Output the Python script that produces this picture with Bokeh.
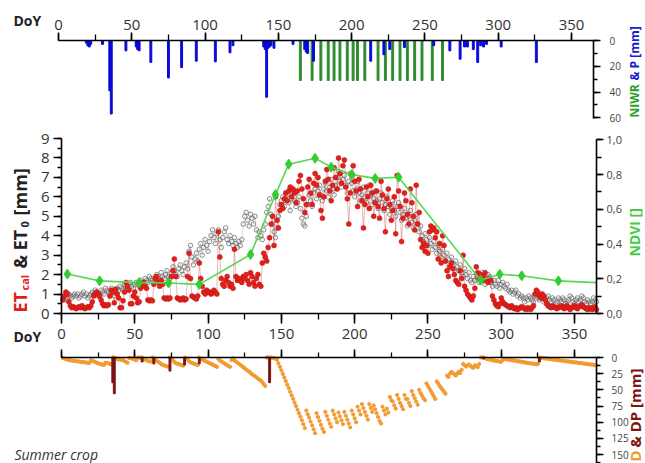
import math
from bokeh.plotting import figure
from bokeh.layouts import column
from bokeh.models import Range1d, LinearAxis, SingleIntervalTicker, Label, CustomJSTickFormatter
from bokeh.embed import file_html
from bokeh.resources import INLINE

FONT = "Open Sans"

# ---------------- data ----------------
doy = list(range(1, 366))

# precipitation P [mm] (top panel, blue)
p_days = [19, 20, 21, 22, 30, 35, 36, 46, 53, 54, 55, 63, 75, 84, 94, 107, 117, 119,
          140, 141, 142, 143, 144, 145, 147, 160, 168, 169, 170, 174, 213, 222, 226, 236,
          256, 267, 274, 277, 279, 283, 286, 288, 290, 292, 302, 326]
p_vals = [2, 4, 5, 3, 3, 39, 57, 8, 5, 7, 8, 17, 29, 21, 16, 16.5, 9.5, 4,
          5, 7, 44, 6, 5, 4, 6, 3, 7, 9, 10, 16, 16, 11, 7, 5.5,
          4, 8, 14.5, 5, 5, 7, 17, 4, 5, 3, 5, 17]

# net irrigation water requirement NIWR [mm] (top panel, green)
niwr_days = [165, 173, 179, 184, 188, 192, 197, 201, 204, 209, 218, 223, 228, 233,
             238, 243, 248, 255, 262]
niwr_vals = [31] * len(niwr_days)

# reference evapotranspiration ET0 [mm] (grey open circles)
et0 = [0.8, 0.9, 0.7, 0.8, 1.0, 0.9, 0.8, 0.9, 1.0, 0.9,
       1.0, 0.8, 0.9, 1.0, 1.1, 0.9, 1.0, 0.8, 0.9, 1.0,
       1.1, 1.0, 1.2, 1.1, 0.9, 1.0, 1.2, 1.1, 1.0, 1.3,
       1.2, 1.1, 1.0, 1.3, 1.2, 0.9, 1.1, 1.3, 1.2, 1.4,
       1.3, 1.2, 1.5, 1.4, 1.3, 1.5, 1.6, 1.4, 1.3, 1.5,
       1.6, 1.5, 1.4, 1.7, 1.6, 1.5, 1.8, 1.7, 1.6, 1.9,
       1.8, 1.7, 1.6, 1.9, 2.0, 1.8, 1.7, 2.1, 1.9, 1.8,
       2.0, 2.2, 1.9, 1.8, 2.1, 2.4, 2.2, 2.0, 1.9, 2.3,
       2.5, 2.2, 2.0, 2.4, 2.6, 2.3, 3.2, 3.5, 2.9, 2.5,
       2.8, 3.1, 2.7, 3.3, 3.6, 3.0, 3.4, 3.8, 3.5, 3.2,
       3.7, 4.0, 4.3, 3.9, 3.6, 4.1, 4.3, 3.8, 3.4, 3.9,
       4.2, 4.4, 3.8, 3.6, 4.0, 3.7, 3.5, 3.9, 3.6, 3.4,
       3.7, 3.5, 3.8, 4.6, 5.0, 5.2, 4.8, 4.5, 5.1, 4.9,
       4.6, 5.0, 4.3, 3.9, 4.2, 4.0, 3.8, 4.3, 4.6, 5.2,
       5.5, 5.9, 5.1, 4.6, 4.2, 3.9, 4.4, 5.0, 5.6, 5.8,
       6.0, 5.5, 5.8, 6.1, 5.7, 5.3, 5.9, 6.2, 5.8, 5.5,
       5.7, 6.0, 5.4, 4.9, 4.6, 4.5, 5.0, 5.6, 6.1, 5.8,
       5.5, 6.2, 6.4, 5.9, 6.3, 6.6, 6.1, 5.8, 6.4, 6.7,
       6.3, 6.0, 6.5, 6.9, 6.4, 6.1, 6.6, 7.0, 7.3, 6.8,
       6.5, 6.9, 7.1, 6.6, 6.2, 6.8, 7.2, 6.7, 6.3, 6.0,
       6.4, 6.8, 6.2, 5.8, 6.1, 6.5, 6.0, 5.7, 6.2, 6.6,
       6.1, 5.6, 5.9, 6.3, 5.8, 5.4, 5.9, 6.2, 5.7, 5.3,
       5.6, 6.0, 5.5, 5.1, 5.4, 5.8, 5.3, 5.0, 5.5, 5.7,
       5.2, 4.8, 5.1, 5.4, 4.9, 4.5, 5.0, 5.3, 4.7, 4.4,
       4.8, 5.1, 4.6, 4.2, 4.5, 4.0, 3.7, 4.1, 3.8, 3.5,
       3.9, 3.6, 3.3, 3.7, 3.4, 3.1, 3.5, 3.2, 2.9, 3.3,
       3.0, 2.7, 3.1, 2.8, 2.5, 2.9, 2.6, 2.3, 2.7, 2.4,
       2.2, 2.5, 2.1, 1.9, 2.3, 2.0, 1.8, 2.1, 1.7, 1.6,
       1.9, 1.7, 2.0, 1.8, 1.6, 1.9, 2.1, 1.8, 1.5, 1.7,
       2.0, 1.9, 1.6, 1.4, 1.7, 1.5, 1.4, 1.7, 1.3, 1.5,
       1.6, 1.4, 1.3, 1.5, 1.2, 1.1, 1.2, 1.0, 1.1, 1.2,
       0.9, 1.0, 0.8, 0.9, 0.8, 0.6, 0.8, 0.7, 0.9, 0.8,
       0.7, 0.6, 0.9, 1.0, 0.8, 0.7, 0.9, 0.8, 0.6, 0.7,
       0.8, 0.9, 0.7, 0.6, 0.8, 0.7, 0.5, 0.6, 0.8, 0.7,
       0.6, 0.8, 0.7, 0.5, 0.6, 0.7, 0.9, 0.8, 0.6, 0.5,
       0.7, 0.8, 0.6, 0.7, 0.9, 0.8, 0.6, 0.5, 0.7, 0.6,
       0.5, 0.6, 0.8, 0.7, 0.6]

# calculated crop evapotranspiration ETcal [mm] (red dots)
etcal = [0.7, 0.9, 1.1, 1.0, 0.6, 0.4, 0.3, 0.35, 0.3, 0.25,
         0.3, 0.35, 0.3, 0.4, 0.3, 0.25, 0.3, 0.35, 0.3, 0.4,
         0.6, 0.9, 1.0, 1.1, 1.0, 0.9, 0.7, 0.5, 0.4, 0.45,
         0.4, 0.45, 0.9, 1.2, 1.1, 0.55, 1.25, 1.0, 0.8, 0.3,
         0.3, 0.65, 1.1, 1.6, 1.4, 1.2, 0.5, 0.5, 0.9, 1.1,
         0.8, 0.55, 0.6, 1.3, 1.5, 1.6, 1.4, 1.3, 0.7, 0.65,
         0.7, 0.65, 1.5, 1.8, 1.9, 1.6, 1.4, 1.7, 1.5, 0.8,
         0.75, 0.8, 0.75, 0.8, 1.9, 2.2, 2.8, 1.9, 0.8, 0.75,
         0.7, 0.75, 0.8, 0.7, 0.75, 1.9, 3.1, 1.8, 0.9, 0.85,
         0.8, 0.75, 0.9, 2.6, 1.8, 1.4, 1.1, 1.0, 1.2, 1.1,
         1.1, 1.0, 1.05, 1.2, 1.1, 1.0, 4.2, 2.9, 1.8, 1.5,
         1.4, 1.7, 1.9, 1.6, 1.4, 1.5, 1.3, 3.3, 1.9, 1.7,
         1.8, 1.7, 1.6, 1.9, 1.8, 2.0, 1.7, 1.5, 2.1, 1.9,
         1.6, 1.4, 1.8, 2.0, 1.5, 1.4, 2.6, 3.1, 2.9, 2.7,
         3.4, 3.9, 4.6, 5.0, 3.5, 6.0, 4.8, 4.4, 5.3, 5.6,
         5.4, 5.9, 6.2, 5.8, 6.3, 6.5, 6.0, 6.4, 6.2, 5.7,
         6.3, 6.8, 7.1, 6.4, 5.9, 5.2, 5.6, 6.5, 6.9, 6.2,
         5.6, 6.7, 7.2, 6.6, 7.0, 6.1, 5.3, 4.9, 6.0, 6.8,
         7.4, 6.9, 6.3, 5.8, 6.6, 7.5, 7.0, 6.4, 8.0, 7.2,
         6.7, 7.6, 7.9, 6.5, 5.9, 4.6, 6.2, 7.1, 7.6, 6.8,
         6.3, 5.5, 6.9, 6.4, 5.8, 4.4, 5.6, 6.5, 6.0, 5.4,
         6.6, 6.2, 5.0, 5.7, 6.3, 5.5, 4.9, 6.8, 6.1, 5.4,
         4.2, 5.9, 6.4, 5.6, 4.8, 5.3, 6.0, 4.1, 7.1, 6.3,
         5.5, 3.7, 4.9, 6.2, 5.8, 5.1, 4.6, 6.4, 5.7, 5.0,
         4.3, 6.6, 4.6, 5.2, 3.8, 3.4, 3.6, 3.2, 3.5, 3.1,
         4.2, 4.5, 4.3, 4.4, 3.9, 4.2, 2.8, 3.6, 2.6, 4.0,
         3.5, 2.7, 2.2, 1.9, 2.4, 2.6, 2.3, 2.0, 1.7, 1.6,
         1.5, 2.2, 1.8, 3.0, 1.4, 1.2, 1.0, 0.9, 0.8, 0.7,
         0.9, 1.3, 2.4, 2.1, 1.8, 2.0, 1.7, 1.9, 2.1, 1.7,
         1.6, 1.8, 1.7, 0.9, 0.7, 0.5, 0.4, 0.35, 0.5, 0.8,
         0.6, 0.5, 0.45, 0.4, 0.35, 0.3, 0.4, 0.3, 0.25, 0.3,
         0.2, 0.25, 0.3, 0.35, 0.3, 0.25, 0.2, 0.3, 0.25, 0.2,
         0.3, 0.4, 1.0, 1.2, 1.1, 0.9, 0.8, 1.0, 0.9, 0.7,
         0.5, 0.4, 0.35, 0.3, 0.4, 0.35, 0.3, 0.25, 0.3, 0.35,
         0.4, 0.3, 0.25, 0.35, 0.4, 0.3, 0.2, 0.3, 0.35, 0.4,
         0.3, 0.25, 0.35, 0.4, 0.45, 0.35, 0.3, 0.25, 0.2, 0.3,
         0.25, 0.2, 0.3, 0.35, 0.2]

# NDVI [] (green line, right axis)
ndvi_days = [4, 26, 53, 73, 94, 129, 146, 155, 173, 184, 198, 214, 230, 286, 299, 314, 339, 365]
ndvi_vals = [0.227, 0.188, 0.178, 0.176, 0.168, 0.34, 0.685, 0.86, 0.894, 0.843, 0.80,
             0.778, 0.785, 0.192, 0.226, 0.217, 0.188, 0.178]

# soil water depletion D [mm] (bottom panel, orange)
depl = [1.0, 1.5, 2.4, 3.3, 3.9, 4.3, 4.6, 5.0, 5.3, 5.6,
        5.9, 6.3, 6.6, 7.0, 7.3, 7.5, 7.8, 8.2, 8.5, 4.5,
        5.1, 5.9, 6.9, 8.0, 9.0, 9.8, 10.5, 11.0, 11.4, 8.0,
        8.4, 8.8, 9.7, 10.9, 0.0, 0.0, 1.2, 2.2, 3.0, 3.3,
        3.6, 4.2, 5.3, 6.9, 8.3, 0.5, 1.0, 1.5, 2.4, 3.5,
        4.3, 0.0, 0.6, 0.0, 0.0, 1.6, 3.0, 4.3, 5.0, 5.6,
        6.3, 0.0, 1.5, 3.3, 5.2, 6.8, 8.2, 9.9, 11.4, 12.2,
        12.9, 13.7, 14.4, 0.0, 1.9, 4.1, 6.9, 8.8, 9.6, 10.3,
        11.0, 11.8, 12.6, 0.0, 0.7, 2.6, 5.7, 7.5, 8.4, 9.2,
        10.0, 10.8, 11.7, 0.0, 1.8, 3.2, 4.3, 5.3, 6.5, 7.6,
        8.7, 9.7, 10.8, 12.0, 13.1, 14.5, 2.0, 4.4, 6.0, 7.4,
        8.8, 10.5, 12.0, 13.2, 14.4, 4.0, 1.0, 4.3, 6.2, 7.9,
        9.7, 11.4, 13.0, 14.9, 16.7, 18.7, 20.4, 21.9, 24.0, 25.9,
        27.5, 28.9, 30.7, 32.7, 34.2, 35.6, 38.2, 41.3, 44.0, 0.0,
        0.0, 0.0, 0.0, 0.5, 1.0, 1.8, 3.4, 9.0, 14.5, 20.0,
        25.5, 31.0, 36.4, 42.0, 47.3, 52.9, 58.4, 63.8, 69.3, 74.9,
        80.6, 86.0, 91.4, 97.0, 103.0, 109.0, 82.0, 88.0, 93.0, 99.0,
        105.0, 111.0, 117.0, 86.0, 92.0, 98.0, 104.0, 110.0, 115.0, 84.0,
        90.0, 96.0, 102.0, 107.0, 82.0, 88.0, 94.0, 100.0, 85.0, 91.0,
        97.0, 103.0, 84.0, 90.0, 96.0, 102.0, 108.0, 82.0, 88.0, 94.0,
        100.0, 76.0, 82.0, 88.0, 72.0, 78.0, 84.0, 90.0, 96.0, 72.0,
        78.0, 84.0, 74.0, 80.0, 86.0, 92.0, 98.0, 102.0, 76.0, 82.0,
        88.0, 79.0, 85.0, 61.0, 66.0, 68.0, 74.0, 79.0, 58.0, 64.0,
        70.0, 75.0, 80.0, 58.0, 64.0, 64.0, 70.0, 75.0, 52.0, 58.0,
        63.0, 68.0, 73.0, 50.0, 55.0, 59.0, 63.0, 66.0, 40.0, 44.0,
        48.0, 52.0, 56.0, 60.0, 64.0, 37.0, 40.0, 44.0, 47.0, 50.0,
        53.0, 56.0, 28.0, 30.0, 25.0, 22.0, 24.0, 26.0, 28.0, 25.0,
        22.0, 24.0, 19.0, 10.0, 12.0, 14.0, 12.0, 11.0, 13.0, 15.0,
        16.0, 12.0, 13.0, 15.0, 10.0, 0.0, 0.0, 0.0, 1.0, 2.0,
        2.5, 3.1, 3.5, 4.2, 4.6, 5.0, 5.4, 6.0, 6.3, 6.5,
        4.0, 2.0, 2.4, 2.9, 3.2, 3.5, 4.1, 4.4, 4.7, 5.1,
        5.5, 6.0, 6.3, 6.7, 7.1, 7.6, 8.0, 8.3, 8.7, 9.1,
        9.4, 9.6, 10.0, 10.3, 10.0, 0.0, 0.4, 0.9, 1.1, 1.5,
        1.7, 2.0, 2.4, 2.6, 2.9, 3.3, 3.5, 3.7, 4.1, 4.4,
        4.8, 5.0, 5.3, 5.7, 6.0, 6.2, 6.5, 6.8, 7.2, 7.5,
        7.7, 8.0, 8.4, 8.6, 8.9, 9.3, 9.6, 9.8, 10.2, 10.5,
        10.8, 11.0, 11.4, 11.7, 12.0]

# deep percolation DP [mm] (bottom panel, dark red)
dp_days = [35, 36, 55, 63, 74, 84, 94, 142, 288, 326]
dp_vals = [39, 56, 7, 10, 21, 11.5, 9.7, 39, 2, 7]

# ---------------- layout geometry (page pixels, page has no margin) ----------------
W = 645
K = 535 / 365.0          # px per day
X0_TOP = 58              # page x of DoY 0, top panel
X0 = 61                  # page x of DoY 0, middle/bottom panels

# top panel: page y 0..126, mm 0 at y=40
S1, Y1 = 1.2893, 40
# middle panel: page y 126..348, value 0 at y=313
S2, Y2 = 19.444, 313
# bottom panel: page y 348..463, mm 0 at y=357
S3, Y3 = 0.647, 357
SPLIT = 348


def x1(px): return (px - X0_TOP) / K
def x2(px): return (px - X0) / K
def y1(py): return (py - Y1) / S1
def y2(py): return (Y2 - py) / S2
def y3(py): return (py - Y3) / S3


def base_fig(height, x_range, y_range, **kw):
    p = figure(width=W, height=height, x_range=x_range, y_range=y_range,
               output_backend="svg", toolbar_location=None, min_border=0, **kw)
    p.grid.visible = False
    p.outline_line_color = None
    p.background_fill_color = "white"
    p.border_fill_color = "white"
    return p


def style_axis(ax, size, major_out, minor_out, standoff, color="#333333"):
    ax.axis_line_color = "black"
    ax.axis_line_width = 1.6
    ax.major_tick_line_color = "black"
    ax.major_tick_line_width = 1.6
    ax.minor_tick_line_color = "black"
    ax.minor_tick_line_width = 1.3
    ax.major_tick_in = 0
    ax.minor_tick_in = 0
    ax.major_tick_out = major_out
    ax.minor_tick_out = minor_out
    ax.major_label_text_font = FONT
    ax.major_label_text_font_size = size
    ax.major_label_text_color = color
    ax.major_label_standoff = standoff


def lab(p, x, y, text, color, size, style="bold", angle=0.0):
    p.add_layout(Label(x=x, y=y, text=text, text_color=color, text_font=FONT,
                       text_font_size=size, text_font_style=style, angle=angle,
                       text_align="left", text_baseline="middle"))


UP = math.pi / 2

# ---------------- top panel: P & NIWR ----------------
p1 = base_fig(126, Range1d(x1(0), x1(645)), Range1d(y1(126), y1(0)),
              x_axis_location="above", y_axis_location="right")
ax = p1.xaxis[0]
ax.ticker = SingleIntervalTicker(interval=50, num_minor_ticks=2)
ax.fixed_location = 0
ax.bounds = (0, 365)
style_axis(ax, "15px", 8, 6, 3)
ay = p1.yaxis[0]
ay.ticker = SingleIntervalTicker(interval=20, num_minor_ticks=2)
ay.fixed_location = 365
ay.bounds = (0, 60.5)
style_axis(ay, "10px", 7, 4, 9, "#444444")
p1.vbar(x=niwr_days, top=niwr_vals, bottom=0, width=1.3, color="#2E8B2E")
p1.vbar(x=p_days, top=p_vals, bottom=0, width=1.3, color="#0A0AD8")
lab(p1, x1(13), y1(20), "DoY", "#222222", "14px")
lab(p1, x1(634), y1(117), "NIWR", "#2E9E2E", "12px", angle=UP)
lab(p1, x1(634), y1(80), "& P [mm]", "#1A1AD0", "12px", angle=UP)

# ---------------- middle panel: ET & NDVI ----------------
NDVI_SCALE = 8.93
p2 = base_fig(SPLIT - 126, Range1d(x2(0), x2(645)), Range1d(y2(SPLIT), y2(126)))
p2.extra_y_ranges = {"ndvi": Range1d(y2(SPLIT) / NDVI_SCALE, y2(126) / NDVI_SCALE)}
ax = p2.xaxis[0]
ax.ticker = SingleIntervalTicker(interval=50, num_minor_ticks=2)
ax.fixed_location = 0
ax.bounds = (0, 365)
style_axis(ax, "15px", 10, 6, 5)
ay = p2.yaxis[0]
ay.ticker = SingleIntervalTicker(interval=1, num_minor_ticks=2)
ay.fixed_location = 0
ay.bounds = (0, 9)
style_axis(ay, "15px", 8, 4, 4)
ax_r = LinearAxis(y_range_name="ndvi",
                  ticker=SingleIntervalTicker(interval=0.2, num_minor_ticks=2),
                  formatter=CustomJSTickFormatter(code="return tick.toFixed(1).replace('.', ',');"),
                  fixed_location=365, bounds=(0, 1.0))
style_axis(ax_r, "11px", 7, 5, 3, "#444444")
p2.add_layout(ax_r, "right")

p2.line(doy, et0, line_color="#9a9a9a", line_width=0.6, line_alpha=0.6)
p2.scatter(doy, et0, marker="circle", size=4.5, fill_color="white", fill_alpha=0.0,
           line_color="#6f6f6f", line_width=0.8)
p2.line(doy, etcal, line_color="#cc3333", line_width=0.6, line_alpha=0.6)
p2.scatter(doy, etcal, marker="circle", size=5, fill_color="#E3211B",
           line_color="#B81414", line_width=0.5)
p2.line(ndvi_days, ndvi_vals, y_range_name="ndvi", line_color="#55D855", line_width=1.6)
p2.scatter(ndvi_days[:-1], ndvi_vals[:-1], y_range_name="ndvi", marker="diamond",
           size=10, color="#33CC33")

lab(p2, x2(19), y2(312), "ET", "#E01E1E", "18px", angle=UP)
lab(p2, x2(24), y2(290), "cal", "#E01E1E", "11px", angle=UP)
lab(p2, x2(19), y2(268), "& ET", "#222222", "18px", angle=UP)
lab(p2, x2(24), y2(227), "0", "#222222", "11px", angle=UP)
lab(p2, x2(19), y2(215), "[mm]", "#222222", "18px", angle=UP)
lab(p2, x2(634), y2(256), "NDVI []", "#44CC44", "14px", angle=UP)
lab(p2, x2(13), y2(336), "DoY", "#222222", "14px")

# ---------------- bottom panel: D & DP ----------------
p3 = base_fig(463 - SPLIT, Range1d(x2(0), x2(645)), Range1d(y3(463), y3(SPLIT)),
              x_axis_location="above", y_axis_location="right")
ax = p3.xaxis[0]
ax.ticker = SingleIntervalTicker(interval=50, num_minor_ticks=2)
ax.fixed_location = 0
ax.bounds = (0, 365)
style_axis(ax, "15px", 8, 5, 4)
ax.major_label_text_alpha = 0.0
ay = p3.yaxis[0]
ay.ticker = SingleIntervalTicker(interval=25, num_minor_ticks=2)
ay.fixed_location = 365
ay.bounds = (0, 165)
style_axis(ay, "10px", 7, 4, 8, "#444444")
p3.scatter(doy, depl, marker="circle", size=3.2, color="#F29B30")
p3.vbar(x=dp_days, top=dp_vals, bottom=0, width=1.3, color="#7B1414")

lab(p3, x2(634), y3(461), "D", "#F29B30", "15px", angle=UP)
lab(p3, x2(634), y3(447), "& DP [mm]", "#7B1414", "15px", angle=UP)
lab(p3, x2(14), y3(454), "Summer crop", "#333333", "14px", style="italic")

layout = column(p1, p2, p3, spacing=0)
open("out.html", "w").write(file_html(layout, INLINE))
